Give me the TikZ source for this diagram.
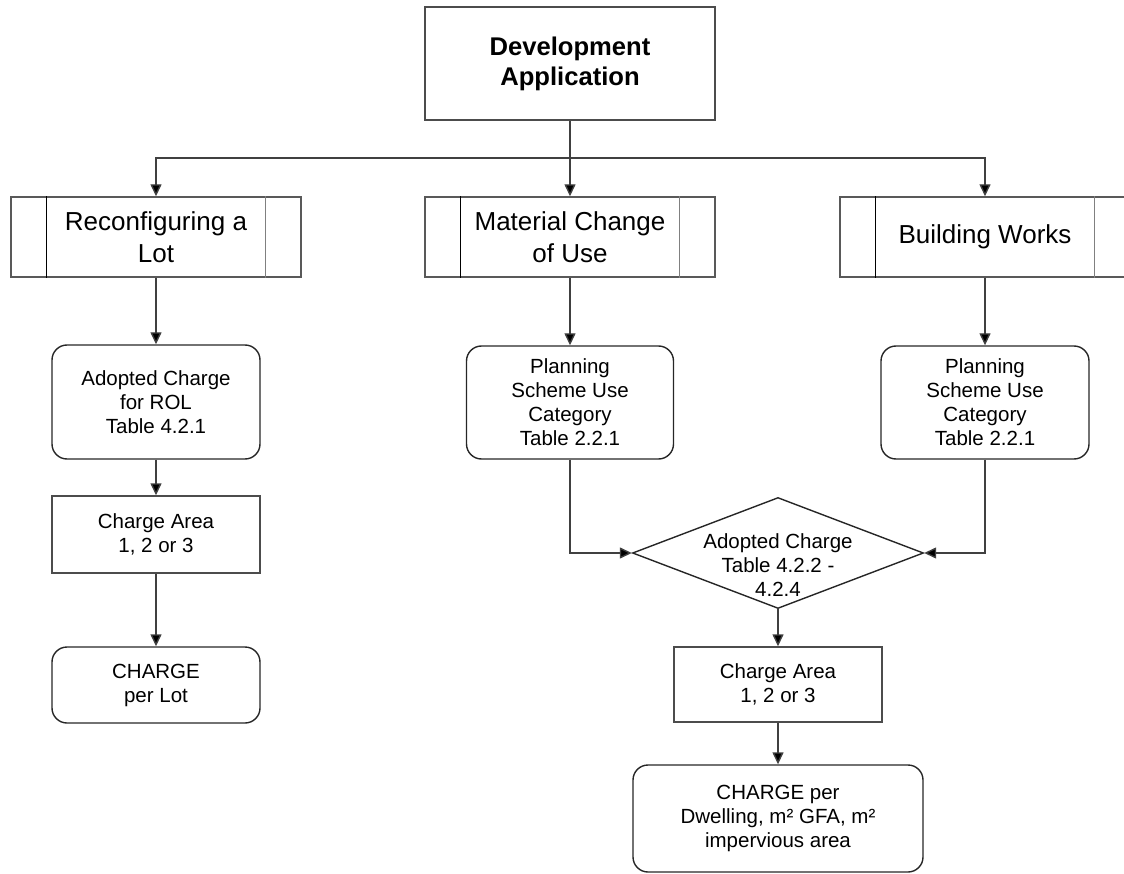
\documentclass[tikz,border=0pt]{standalone}
\usepackage{fontspec}
\setmainfont{Liberation Sans}
\usetikzlibrary{arrows.meta,shapes.geometric}
\begin{document}
\begin{tikzpicture}[x=1pt,y=-1pt,
  base/.style={inner sep=0pt, align=center, line width=1.4pt},
  bigtxt/.style={font=\fontsize{26}{32}\selectfont},
  smalltxt/.style={font=\fontsize{20.5}{24}\selectfont},
  topbox/.style={base, draw=black!70, minimum width=290pt, minimum height=113pt,
    font=\fontsize{25.6}{30}\bfseries\selectfont},
  procbox/.style={base, bigtxt, draw=black!65, minimum width=290pt, minimum height=80pt},
  roundbox/.style={base, smalltxt, draw=black!85, rounded corners=15pt},
  plainbox/.style={base, smalltxt, draw=black!70},
  decbox/.style={base, diamond, draw=black!85, minimum width=291pt, minimum height=111pt},
  lbl/.style={inner sep=0pt, align=center, smalltxt},
  conn/.style={line width=1.4pt, draw=black!75, -{Triangle[width=11pt,length=12pt,fill=black]}},
  innerl/.style={line width=1.4pt, draw=black},
  innerr/.style={line width=1.4pt, draw=black!50}
]
\clip (0,0) rectangle (1124,874);
\useasboundingbox (0,0) rectangle (1124,874);

% top
\node[topbox] (da) at (570,63.5) {Development\\Application};
\coordinate (bus) at (570,158);

% process boxes
\node[procbox] (rl) at (156,237) {Reconfiguring a\\Lot};
\node[procbox] (mc) at (570,237) {Material Change\\of Use};
\node[procbox] (bw) at (985,237) {Building Works};
\foreach \n in {rl,mc,bw}{
  \draw[innerl] ([xshift=36pt]\n.north west) -- ([xshift=36pt]\n.south west);
  \draw[innerr] ([xshift=-36pt]\n.north east) -- ([xshift=-36pt]\n.south east);
}

% left column
\node[roundbox, minimum width=208pt, minimum height=114pt] (rol) at (156,402) {Adopted Charge\\for ROL\\Table 4.2.1};
\node[plainbox, minimum width=208pt, minimum height=77pt] (ca1) at (156,534.5) {Charge Area\\1, 2 or 3};
\node[roundbox, minimum width=208pt, minimum height=76pt] (cl) at (156,685) {CHARGE\\per Lot};

% middle & right
\node[roundbox, minimum width=207pt, minimum height=113pt] (ps1) at (570,402.5) {Planning\\Scheme Use\\Category\\Table 2.2.1};
\node[roundbox, minimum width=208pt, minimum height=113pt] (ps2) at (985,402.5) {Planning\\Scheme Use\\Category\\Table 2.2.1};

\node[decbox] (dm) at (778,553) {};
\node[lbl] (dmt) at (778,565) {Adopted Charge\\Table 4.2.2 -\\4.2.4};

\node[plainbox, minimum width=208pt, minimum height=75pt] (ca2) at (778,684.5) {Charge Area\\1, 2 or 3};
\node[roundbox, minimum width=290pt, minimum height=107pt] (cd) at (778,818.5) {CHARGE per\\Dwelling, m² GFA, m²\\impervious area};

% connectors
\draw[conn] (da.south) -- (mc.north);
\draw[conn] (bus) -| (rl.north);
\draw[conn] (bus) -| (bw.north);
\draw[conn] (rl.south) -- (rol.north);
\draw[conn] (rol.south) -- (ca1.north);
\draw[conn] (ca1.south) -- (cl.north);
\draw[conn] (mc.south) -- (ps1.north);
\draw[conn] (bw.south) -- (ps2.north);
\draw[conn] (ps1.south) |- (dm.west);
\draw[conn] (ps2.south) |- (dm.east);
\draw[conn] (dm.south) -- (ca2.north);
\draw[conn] (ca2.south) -- (cd.north);
\end{tikzpicture}
\end{document}
